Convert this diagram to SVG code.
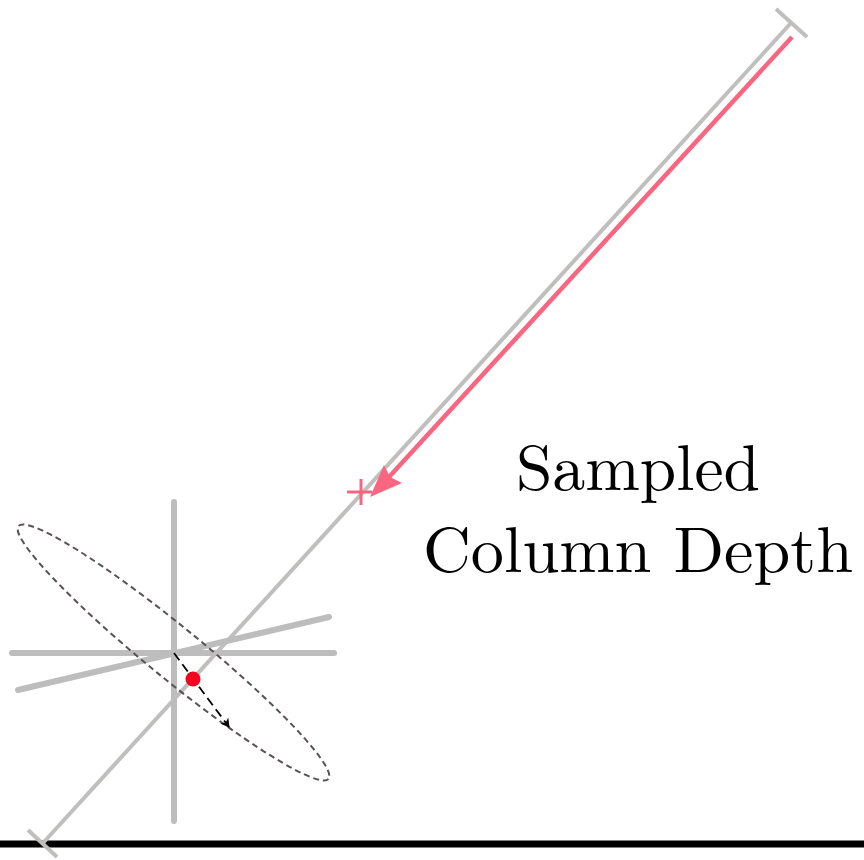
<svg xmlns="http://www.w3.org/2000/svg" width="864" height="860" viewBox="0 0 864 860">
<style>
.ray{stroke:#c0bfbd;stroke-width:4;fill:none;stroke-linecap:butt}
.cross{stroke:#bdbdbd;stroke-width:6;fill:none;stroke-linecap:round}
.red{stroke:#fa6680;stroke-width:4.5;fill:none}
.lbl{font-family:"Latin Modern Roman","Liberation Serif",serif;font-size:64px;fill:#000;text-anchor:middle}
</style>
<defs>
<marker id="dart" markerWidth="10" markerHeight="10" refX="8" refY="5" orient="auto" markerUnits="userSpaceOnUse">
<path d="M0,0 L9,5 L0,10 L2.5,5 Z" fill="#000"/>
</marker>
</defs>
<rect width="864" height="860" fill="#fff"/>
<g id="ground"><line x1="0" y1="844" x2="864" y2="844" stroke="#000" stroke-width="7"/></g>
<g id="ray">
<line class="ray" x1="43" y1="843" x2="791" y2="23"/>
<line class="ray" x1="776" y1="9" x2="807" y2="37"/>
<line class="ray" x1="28" y1="830" x2="57" y2="857"/>
</g>
<g id="crosshair">
<line class="cross" x1="174" y1="502" x2="174" y2="821"/>
<line class="cross" x1="12" y1="653" x2="334" y2="653"/>
<line class="cross" x1="18" y1="690" x2="329" y2="617"/>
</g>
<g id="ellipse">
<ellipse cx="173.5" cy="652.5" rx="200" ry="26" transform="rotate(39.2 173.5 652.5)" fill="none" stroke="#5a5252" stroke-width="2" stroke-dasharray="6 4"/>
</g>
<g id="connectors">
<line x1="174" y1="653" x2="229" y2="727" stroke="#000" stroke-width="1.8" stroke-dasharray="9 5" marker-end="url(#dart)"/>
<line class="red" x1="792" y1="37" x2="389" y2="477"/>
<polygon points="370,497 384,465 390,477 402,483" fill="#fa6680"/>
</g>
<g id="sample-mark">
<line x1="347" y1="492" x2="372" y2="492" stroke="#fa6680" stroke-width="3"/>
<line x1="361" y1="479" x2="361" y2="505" stroke="#fa6680" stroke-width="3"/>
</g>
<g id="dot"><circle cx="193" cy="679" r="7.5" fill="#f5001e"/></g>
<g id="label">
<text class="lbl" x="638" y="490" textLength="244" lengthAdjust="spacingAndGlyphs">Sampled</text>
<text class="lbl" x="638" y="572" textLength="430" lengthAdjust="spacingAndGlyphs">Column Depth</text>
</g>
</svg>
